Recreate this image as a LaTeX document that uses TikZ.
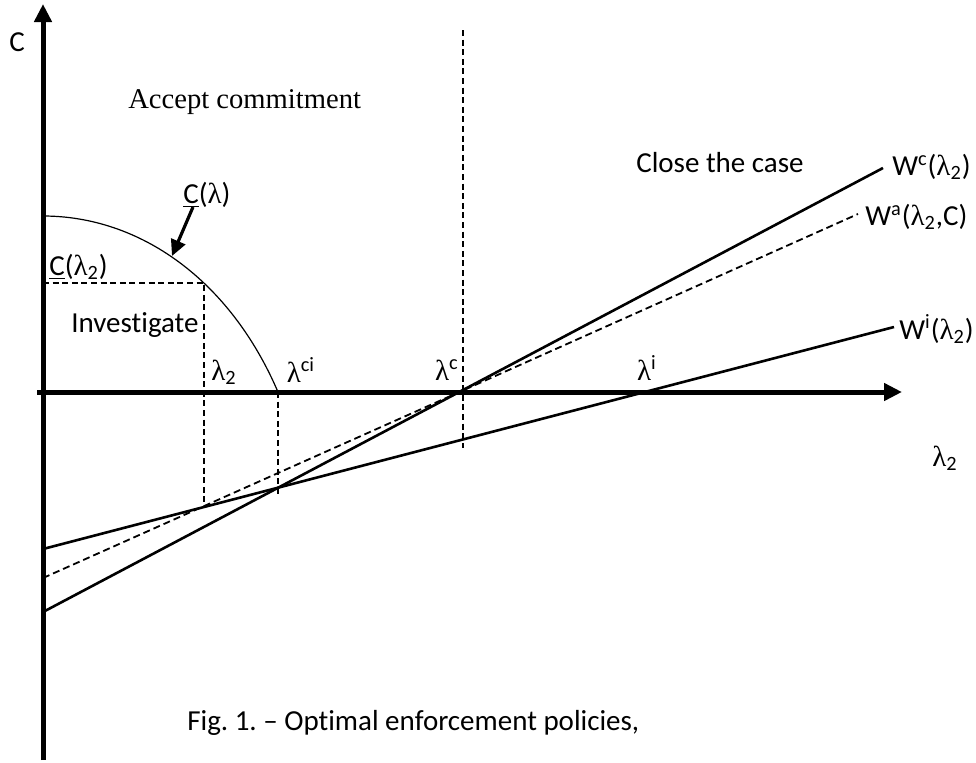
\documentclass[tikz,border=0pt]{standalone}
\usepackage{fontspec}
\setmainfont[Ligatures=NoCommon]{Carlito}
\newfontfamily\timesfont{Liberation Serif}
\usetikzlibrary{arrows.meta}
\newcommand{\lam}{{\timesfont λ}}
\frenchspacing

\begin{document}
\begin{tikzpicture}[x=0.5pt, y=-0.5pt, line width=1.3pt,
    every node/.style={font=\fontsize{14.5}{17}\selectfont, inner sep=0pt},
    axis/.style={line width=2.5pt, -{Triangle[length=9pt, width=8.5pt]}},
    guide/.style={line width=0.85pt, dash pattern=on 3pt off 1.8pt},
    offer/.style={line width=0.9pt, dash pattern=on 3.5pt off 2pt}]
  \useasboundingbox (0,0) rectangle (976,762);
  % axes
  \coordinate (ybot) at (43,760);
  \coordinate (ytop) at (43,4);
  \coordinate (xlft) at (37,392);
  \coordinate (xrgt) at (902,392);
  \draw[axis] (ybot) -- (ytop);
  \draw[axis] (xlft) -- (xrgt);
  % threshold curve
  \coordinate (C0) at (43,216);
  \coordinate (Lci) at (278,392);
  \draw[line width=0.6pt] (C0) .. controls (140,216) and (230,280) .. (Lci);
  % welfare lines
  \coordinate (Wc0) at (43,612);
  \coordinate (Wc1) at (883,168);
  \coordinate (Wa0) at (43,578);
  \coordinate (Wa1) at (858,214);
  \coordinate (Wi0) at (43,549);
  \coordinate (Wi1) at (894,327);
  \draw (Wc0) -- (Wc1);
  \draw[offer] (Wa0) -- (Wa1);
  \draw (Wi0) -- (Wi1);
  % guide lines
  \coordinate (Cl2) at (43,283);
  \coordinate (P2) at (204,283);
  \coordinate (P2b) at (204,506);
  \coordinate (Lcib) at (278,494);
  \coordinate (Lct) at (463,30);
  \coordinate (Lcb) at (463,448);
  \draw[guide] (Cl2) -- (P2) -- (P2b);
  \draw[guide] (Lci) -- (Lcib);
  \draw[guide] (Lct) -- (Lcb);
  % pointer to the curve
  \coordinate (ptail) at (193,207);
  \coordinate (phead) at (172,256);
  \draw[line width=1.6pt, -{Triangle[length=8pt, width=7.5pt]}] (ptail) -- (phead);
  % labels
  \node (cax) at (17,42) {C};
  \node[anchor=west, font=\timesfont\fontsize{14.3}{17}\selectfont] (acc) at (127,102) {Accept commitment};
  \node[anchor=west] (close) at (635,163) {Close the case};
  \node[anchor=west] (inv) at (70,325) {Investigate};
  \node[anchor=west] (clam) at (182,195) {\underline{C}(\lam)};
  \node[anchor=west] (clam2) at (48,267) {\underline{C}(\lam\textsubscript{2})};
  \node (l2) at (224,372) {\lam\textsubscript{2}};
  \node (lci) at (301,370) {\lam\textsuperscript{ci}};
  \node (lc) at (447,370) {\lam\textsuperscript{c}};
  \node (li) at (647,368) {\lam\textsuperscript{i}};
  \node (lx) at (945,458) {\lam\textsubscript{2}};
  \node[anchor=west] (wc) at (891,167) {W\textsuperscript{c}(\lam\textsubscript{2})};
  \node[anchor=west] (wa) at (864,217) {W\textsuperscript{a}(\lam\textsubscript{2},C)};
  \node[anchor=west] (wi) at (898,329) {W\textsuperscript{i}(\lam\textsubscript{2})};
  \node[anchor=west] (cap) at (186,723) {Fig. 1. -- Optimal enforcement policies,};
\end{tikzpicture}
\end{document}
